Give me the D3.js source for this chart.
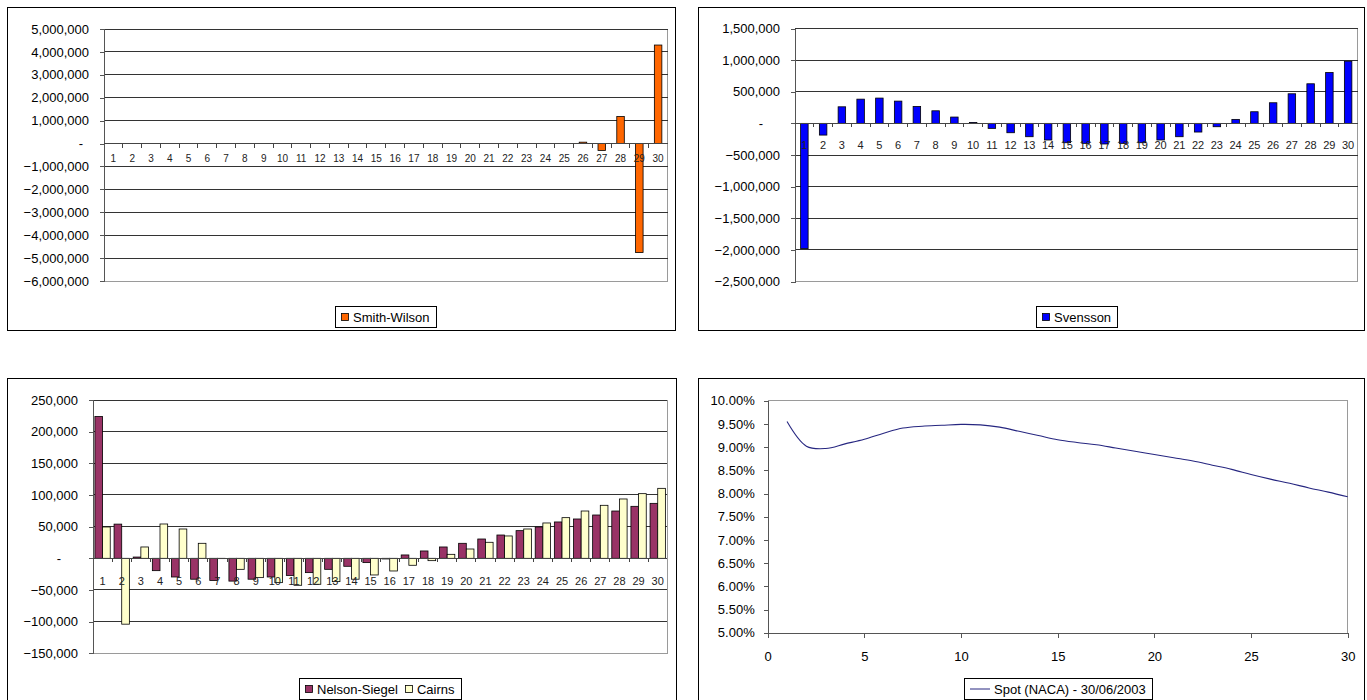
<!DOCTYPE html>
<html>
<head>
<meta charset="utf-8">
<script src="https://cdn.jsdelivr.net/npm/d3@7"></script>
<style>
  html, body { margin: 0; padding: 0; background: #fff; }
  svg { display: block; font-family: "Liberation Sans", Arial, sans-serif; }
</style>
</head>
<body>
<svg id="chart" width="1367" height="700"></svg>
<script>
// ---- data ----
const categories = [1,2,3,4,5,6,7,8,9,10,11,12,13,14,15,16,17,18,19,20,21,22,23,24,25,26,27,28,29,30];

const smithWilson = [0,0,0,0,0,0,0,0,0,0,0,0,0,0,0,0,0,0,0,0,0,0,0,0,0,
  60000, -300000, 1180000, -4760000, 4300000];

const svensson = [-1980000, -185000, 262000, 383000, 400000, 352000, 268000, 199000, 100000, 15000,
  -79000, -148000, -211000, -263000, -306000, -316000, -326000, -316000, -306000, -263000,
  -211000, -137000, -53000, 63000, 184000, 326000, 468000, 626000, 804000, 983000];

const nelsonSiegel = [224000, 54000, 2000, -19500, -29500, -33000, -35000, -36000, -33000, -29500,
  -27000, -22600, -17400, -12600, -6800, -1000, 5300, 11600, 17900, 23700,
  30500, 36800, 43700, 49500, 57400, 62100, 68400, 74700, 82100, 86800];

const cairns = [49500, -104000, 17900, 54200, 46300, 23700, -500, -17400, -30500, -38400,
  -42600, -41000, -36800, -33000, -26300, -20000, -11000, -3700, 6300, 14700,
  25300, 35300, 46300, 55800, 64200, 74700, 83700, 93700, 102100, 110500];

const tenors = [1,2,3,4,5,6,7,8,9,10,11,12,13,14,15,16,17,18,19,20,21,22,23,24,25,26,27,28,29,30];
const spotRates = [9.55, 9.02, 8.97, 9.07, 9.17, 9.30, 9.41, 9.45, 9.47, 9.49,
  9.48, 9.43, 9.34, 9.25, 9.16, 9.10, 9.05, 8.98, 8.91, 8.84,
  8.77, 8.70, 8.61, 8.52, 8.41, 8.31, 8.22, 8.12, 8.03, 7.93];

const smithWilsonTicks = [5000000, 4000000, 3000000, 2000000, 1000000, 0,
  -1000000, -2000000, -3000000, -4000000, -5000000, -6000000];
const svenssonTicks = [1500000, 1000000, 500000, 0, -500000, -1000000, -1500000, -2000000, -2500000];
const nsCairnsTicks = [250000, 200000, 150000, 100000, 50000, 0, -50000, -100000, -150000];
const spotTicks = [10.0, 9.5, 9.0, 8.5, 8.0, 7.5, 7.0, 6.5, 6.0, 5.5, 5.0];
const tenorTicks = [0, 5, 10, 15, 20, 25, 30];

// ---- drawing ----
const svg = d3.select("#chart");
const numFmt = d3.format(",");
const fmtValue = d => d === 0 ? "-" : numFmt(d);

function frame(x, y, w, h) {
  svg.append("rect")
    .attr("x", x + 0.5).attr("y", y + 0.5)
    .attr("width", w).attr("height", h)
    .attr("fill", "#fff").attr("stroke", "#000").attr("stroke-width", 1);
}

function legend(cx, top, items, fontSize) {
  const g = svg.append("g");
  const padL = 6, padR = 6, sw = 8, gap = 4, itemGap = 7, h = 21;
  let x = 0;
  const parts = [];
  items.forEach((it, i) => {
    const sg = g.append("g");
    const swW = it.type === "line" ? 20 : sw;
    if (it.type === "line") {
      sg.append("line").attr("x1", 0).attr("x2", swW)
        .attr("y1", 0).attr("y2", 0)
        .attr("stroke", it.color).attr("stroke-width", 1);
    } else {
      sg.append("rect").attr("x", 0.5).attr("y", -sw / 2 + 0.5)
        .attr("width", sw - 1).attr("height", sw - 1)
        .attr("fill", it.color).attr("stroke", "#000").attr("stroke-width", 0.8);
    }
    const t = sg.append("text").attr("x", swW + gap).attr("y", 0)
      .attr("dy", "0.35em").attr("font-size", fontSize).attr("fill", "#000")
      .text(it.name);
    const w = swW + gap + t.node().getComputedTextLength();
    parts.push({ sg, x });
    x += w + (i < items.length - 1 ? itemGap : 0);
  });
  const boxW = padL + x + padR;
  const left = Math.round(cx - boxW / 2);
  g.insert("rect", ":first-child")
    .attr("x", left + 0.5).attr("y", top + 0.5)
    .attr("width", Math.round(boxW)).attr("height", h)
    .attr("fill", "#fff").attr("stroke", "#000").attr("stroke-width", 1);
  parts.forEach(p => p.sg.attr("transform", `translate(${left + padL + p.x},${top + h / 2 + 0.5})`));
}

function barPanel(cfg) {
  frame(cfg.frame[0], cfg.frame[1], cfg.frame[2], cfg.frame[3]);
  const [x0, x1, y0, y1] = cfg.plot;
  const ext = d3.extent(cfg.ticks);
  const y = d3.scaleLinear().domain(ext).range([y1, y0]);
  const x = d3.scaleBand().domain(categories).range([x0, x1])
    .paddingInner(cfg.padding).paddingOuter(cfg.padding / 2);
  const names = cfg.series.map(s => s.name);
  const xs = d3.scaleBand().domain(names).range([0, x.bandwidth()]);

  // plot area border
  svg.append("rect").attr("x", x0).attr("y", y0)
    .attr("width", x1 - x0).attr("height", y1 - y0)
    .attr("fill", "none").attr("stroke", "#9a9a9a").attr("stroke-width", 1)
    .attr("shape-rendering", "crispEdges");

  // gridlines
  svg.append("g").selectAll("line")
    .data(cfg.ticks.filter(t => t !== ext[0] && t !== 0))
    .join("line")
    .attr("x1", x0).attr("x2", x1)
    .attr("y1", d => y(d)).attr("y2", d => y(d))
    .attr("stroke", "#333").attr("stroke-width", 1)
    .attr("shape-rendering", "crispEdges");

  // bars
  cfg.series.forEach(s => {
    svg.append("g").selectAll("rect")
      .data(categories.map((c, i) => ({ c, v: s.values[i] })))
      .join("rect")
      .attr("x", d => x(d.c) + xs(s.name))
      .attr("width", xs.bandwidth())
      .attr("y", d => y(Math.max(0, d.v)))
      .attr("height", d => Math.abs(y(d.v) - y(0)))
      .attr("fill", s.color)
      .attr("stroke", "#000").attr("stroke-width", 0.8);
  });

  // value axis
  const ya = svg.append("g").attr("transform", `translate(${x0},0)`)
    .call(d3.axisLeft(y).tickValues(cfg.ticks).tickSize(4).tickPadding(11).tickFormat(fmtValue));
  ya.select(".domain").attr("stroke", "#555").attr("shape-rendering", "crispEdges");
  ya.selectAll(".tick line").attr("stroke", "#555").attr("shape-rendering", "crispEdges");
  ya.selectAll(".tick text")
    .attr("font-size", 13).attr("fill", "#000")
    .attr("font-family", "Liberation Sans, Arial, sans-serif")
    .attr("dx", d => d === 0 ? cfg.zeroDx : 0);

  // category axis on the zero line
  const zy = y(0);
  svg.append("line").attr("x1", x0).attr("x2", x1).attr("y1", zy).attr("y2", zy)
    .attr("stroke", "#444").attr("stroke-width", 1).attr("shape-rendering", "crispEdges");
  const bounds = categories.map(c => x(c) - x.step() * cfg.padding / 2).slice(1);
  svg.append("g").selectAll("line").data(bounds).join("line")
    .attr("x1", d => d).attr("x2", d => d).attr("y1", zy).attr("y2", zy + 4)
    .attr("stroke", "#444").attr("stroke-width", 1).attr("shape-rendering", "crispEdges");
  svg.append("g").selectAll("text").data(categories).join("text")
    .attr("x", d => x(d) + x.bandwidth() / 2)
    .attr("y", zy + cfg.catOffset)
    .attr("dy", "0.35em").attr("text-anchor", "middle")
    .attr("font-size", cfg.catFont).attr("fill", "#222")
    .text(d => d);

  legend((x0 + x1) / 2, cfg.legendTop,
    cfg.series.map(s => ({ name: s.name, color: s.color, type: "square" })), 13);
}

// Smith-Wilson
barPanel({
  frame: [7, 7, 668, 323],
  plot: [104, 667.5, 29, 281],
  ticks: smithWilsonTicks,
  padding: 0.6,
  series: [{ name: "Smith-Wilson", values: smithWilson, color: "#FF6600" }],
  zeroDx: -6, catOffset: 15, catFont: 10, legendTop: 306
});

// Svensson
barPanel({
  frame: [698, 7, 666, 323],
  plot: [795, 1357.5, 28.5, 281.5],
  ticks: svenssonTicks,
  padding: 0.6,
  series: [{ name: "Svensson", values: svensson, color: "#0000FF" }],
  zeroDx: -17, catOffset: 21.5, catFont: 11, legendTop: 306
});

// Nelson-Siegel and Cairns
barPanel({
  frame: [7, 378, 669, 340],
  plot: [93, 667.3, 400, 653.3],
  ticks: nsCairnsTicks,
  padding: 0.2,
  series: [
    { name: "Nelson-Siegel", values: nelsonSiegel, color: "#993366" },
    { name: "Cairns", values: cairns, color: "#FFFFCC" }
  ],
  zeroDx: -17, catOffset: 22.5, catFont: 11, legendTop: 678
});

// Spot curve
(function () {
  frame(698, 378, 666, 340);
  const x0 = 767.7, x1 = 1347.7, y0 = 400.7, y1 = 632.7;
  const x = d3.scaleLinear().domain([0, 30]).range([x0, x1]);
  const y = d3.scaleLinear().domain([5, 10]).range([y1, y0]);

  svg.append("path")
    .attr("d", `M${x0},${y0}H${x1}V${y1}`)
    .attr("fill", "none").attr("stroke", "#9a9a9a").attr("stroke-width", 1)
    .attr("shape-rendering", "crispEdges");

  const ya = svg.append("g").attr("transform", `translate(${x0},0)`)
    .call(d3.axisLeft(y).tickValues(spotTicks).tickSize(4).tickPadding(9)
      .tickFormat(d => d.toFixed(2) + "%"));
  const xa = svg.append("g").attr("transform", `translate(0,${y1})`)
    .call(d3.axisBottom(x).tickValues(tenorTicks).tickSize(5).tickPadding(14)
      .tickFormat(d3.format("d")));
  [ya, xa].forEach(a => {
    a.select(".domain").attr("stroke", "#555").attr("shape-rendering", "crispEdges");
    a.selectAll(".tick line").attr("stroke", "#555").attr("shape-rendering", "crispEdges");
    a.selectAll(".tick text").attr("font-size", 13).attr("fill", "#000")
      .attr("font-family", "Liberation Sans, Arial, sans-serif");
  });

  const line = d3.line()
    .x((d, i) => x(tenors[i]))
    .y(d => y(d))
    .curve(d3.curveCatmullRom.alpha(0.5));
  svg.append("path").datum(spotRates)
    .attr("d", line)
    .attr("fill", "none").attr("stroke", "#262680").attr("stroke-width", 1.1);

  legend((x0 + x1) / 2, 678,
    [{ name: "Spot (NACA) - 30/06/2003", color: "#262680", type: "line" }], 13);
})();
</script>
</body>
</html>
